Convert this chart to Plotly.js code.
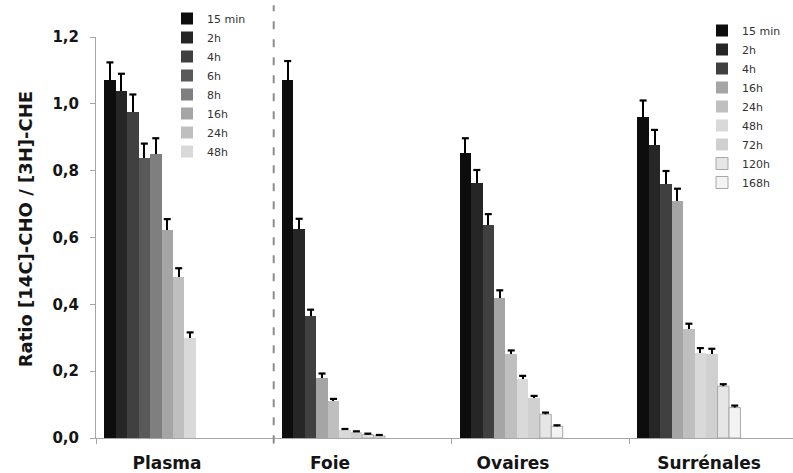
<!DOCTYPE html>
<html><head><meta charset="utf-8">
<script src="https://cdn.plot.ly/plotly-3.0.1.min.js"></script>
<style>html,body{margin:0;padding:0;background:#fff}#chart{width:793px;height:473px}</style>
</head><body><div id="chart"></div>
<script>
// ---- data ----
const groupLabels = ["Plasma", "Foie", "Ovaires", "Surrénales"];
const yTitle = "Ratio [14C]-CHO / [3H]-CHE";
const plasmaTimes = ["15 min", "2h", "4h", "6h", "8h", "16h", "24h", "48h"];
const plasmaValues = [1.070, 1.037, 0.977, 0.837, 0.851, 0.622, 0.482, 0.300];
const plasmaErrors = [0.054, 0.053, 0.051, 0.044, 0.046, 0.033, 0.026, 0.016];
const tissueTimes = ["15 min", "2h", "4h", "16h", "24h", "48h", "72h", "120h", "168h"];
const foieValues = [1.072, 0.624, 0.364, 0.180, 0.111, 0.024, 0.017, 0.010, 0.006];
const foieErrors = [0.056, 0.032, 0.020, 0.013, 0.006, 0.003, 0.003, 0.003, 0.003];
const ovairesValues = [0.853, 0.762, 0.636, 0.418, 0.250, 0.177, 0.120, 0.071, 0.035];
const ovairesErrors = [0.044, 0.040, 0.034, 0.024, 0.012, 0.009, 0.006, 0.005, 0.003];
const surrenalesValues = [0.962, 0.878, 0.760, 0.710, 0.327, 0.253, 0.250, 0.155, 0.091];
const surrenalesErrors = [0.048, 0.044, 0.039, 0.036, 0.015, 0.016, 0.017, 0.006, 0.006];
const yTicks = [0, 0.2, 0.4, 0.6, 0.8, 1.0, 1.2];

// ---- styles / layout helpers ----
const plasmaColors = ["#0d0d0d", "#262626", "#404040", "#595959", "#7f7f7f", "#a5a5a5", "#bfbfbf", "#d9d9d9"];
const tissueColors = ["#0d0d0d", "#262626", "#404040", "#a5a5a5", "#bfbfbf", "#d9d9d9", "#d0d0d0", "#e6e6e6", "#f3f3f3"];
const tissueOutline = [0, 0, 0, 0, 0, 0, 0, 1, 1];
const GROUP_STEP = 15.52, BAR_OFFSET = 0.72;
const labelOffsets = [6.2, 4.92, 5.38, 6.98];
function barX(g, i) { return GROUP_STEP * g + BAR_OFFSET + i + 0.5; }

// error bar stems (caps drawn separately so there is no cap at the bar top)
const errStyle = {type: 'data', symmetric: false, color: '#000', thickness: 2, width: 0};
const traces = [];
const capX = [], capY = [];
plasmaTimes.forEach((t, i) => {
  traces.push({
    type: 'bar', name: t, legend: 'legend',
    x: [barX(0, i)], y: [plasmaValues[i]], width: 1,
    marker: {color: plasmaColors[i], line: {width: 0}},
    error_y: Object.assign({array: [plasmaErrors[i]], arrayminus: [0]}, errStyle),
    hoverinfo: 'skip'
  });
  capX.push(barX(0, i)); capY.push(plasmaValues[i] + plasmaErrors[i]);
});
const tissueValues = [foieValues, ovairesValues, surrenalesValues];
const tissueErrors = [foieErrors, ovairesErrors, surrenalesErrors];
tissueTimes.forEach((t, i) => {
  traces.push({
    type: 'bar', name: t, legend: 'legend2',
    x: tissueValues.map((_, k) => barX(k + 1, i)),
    y: tissueValues.map(v => v[i]),
    width: 1,
    marker: {color: tissueColors[i], line: {width: tissueOutline[i], color: '#a8a8a8'}},
    error_y: Object.assign({array: tissueErrors.map(e => e[i]), arrayminus: [0, 0, 0]}, errStyle),
    hoverinfo: 'skip'
  });
  tissueValues.forEach((v, k) => { capX.push(barX(k + 1, i)); capY.push(v[i] + tissueErrors[k][i]); });
});
traces.push({
  type: 'scatter', mode: 'markers', x: capX, y: capY, showlegend: false, hoverinfo: 'skip',
  marker: {symbol: 'line-ew', size: 5, color: '#000', line: {width: 2.2, color: '#000'}}
});

const boldFont = (size) => ({family: 'DejaVu Sans', size: size, weight: 'bold', color: '#151515'});
const legendFont = {family: 'DejaVu Sans', size: 11, color: '#333'};

const layout = {
  width: 793, height: 473,
  margin: {l: 96, r: 0, t: 37, b: 35, autoexpand: false},
  paper_bgcolor: '#fff', plot_bgcolor: '#fff',
  barmode: 'overlay', bargap: 0,
  separators: ',.',
  hovermode: false,
  showlegend: true,
  xaxis: {
    range: [0, 60.87],
    tickmode: 'array',
    tickvals: groupLabels.map((_, g) => GROUP_STEP * g + labelOffsets[g]),
    ticktext: groupLabels,
    ticks: '',
    tickfont: boldFont(17),
    ticklabelstandoff: 10,
    showline: true, linecolor: '#a6a6a6', linewidth: 1,
    showgrid: false, zeroline: false,
    minor: {tickmode: 'array', tickvals: groupLabels.map((_, g) => GROUP_STEP * g),
            ticks: 'outside', ticklen: 5, tickwidth: 1, tickcolor: '#a6a6a6', showgrid: false}
  },
  yaxis: {
    range: [0, 1.2],
    tickmode: 'array', tickvals: yTicks, tickformat: '.1f',
    ticks: 'outside', ticklen: 5, tickwidth: 1, tickcolor: '#a6a6a6',
    tickfont: boldFont(15),
    ticklabelstandoff: 8,
    showline: true, linecolor: '#a6a6a6', linewidth: 1,
    showgrid: false, zeroline: false
  },
  annotations: [{
    text: yTitle, textangle: -90, showarrow: false,
    xref: 'paper', yref: 'paper', x: (25.5 - 96) / 697, y: (437.7 - 229.5) / 401,
    xanchor: 'center', yanchor: 'middle', font: boldFont(18)
  }],
  legend: {
    xref: 'container', yref: 'container',
    x: 167 / 793, y: 1 - 4 / 473, xanchor: 'left', yanchor: 'top',
    bgcolor: 'rgba(0,0,0,0)', borderwidth: 0, font: legendFont
  },
  legend2: {
    xref: 'container', yref: 'container',
    x: 702 / 793, y: 1 - 16 / 473, xanchor: 'left', yanchor: 'top',
    bgcolor: 'rgba(0,0,0,0)', borderwidth: 0, font: legendFont
  },
  shapes: [{
    type: 'line', xref: 'x', yref: 'paper',
    x0: GROUP_STEP, x1: GROUP_STEP, y0: -0.013, y1: 1.079,
    line: {color: '#8c8c8c', width: 2, dash: '8px,10px'}
  }]
};

Plotly.newPlot('chart', traces, layout, {displayModeBar: false, staticPlot: true});
</script>
</body></html>
